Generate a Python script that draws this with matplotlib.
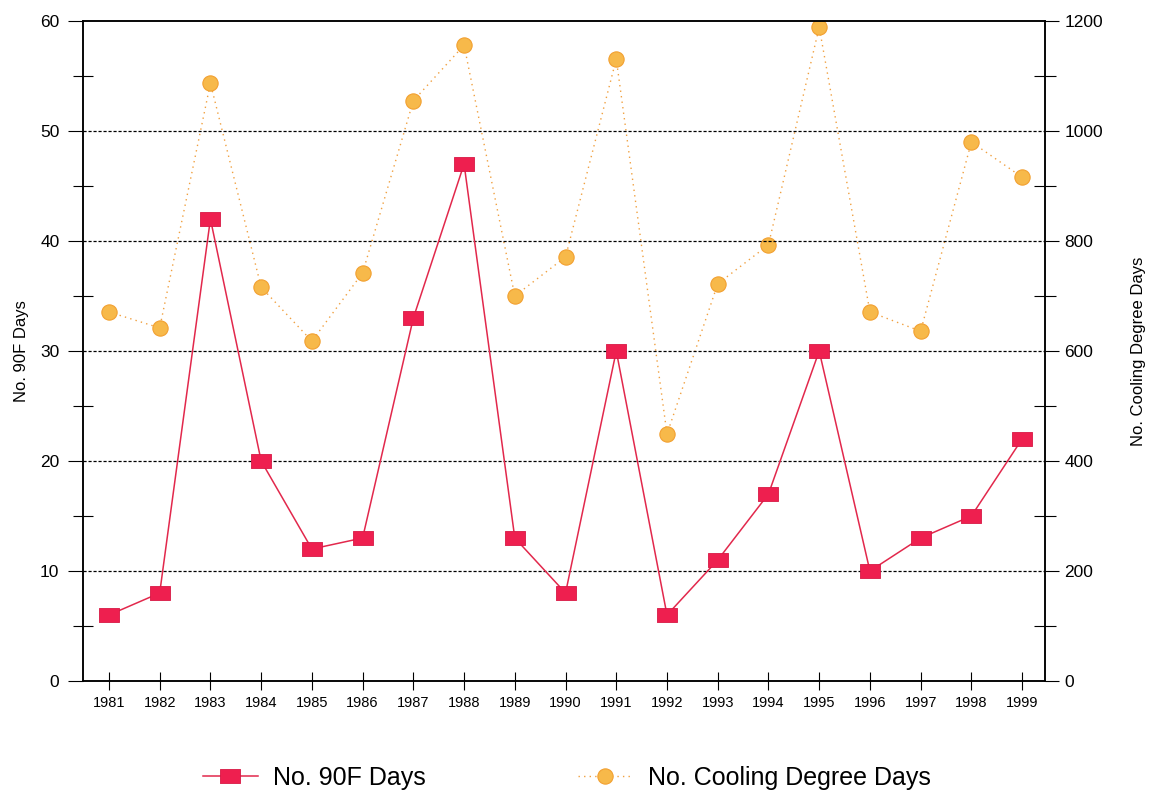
import numpy as np
import matplotlib.pyplot as plt
from matplotlib.ticker import MultipleLocator

# data
years = [1981, 1982, 1983, 1984, 1985, 1986, 1987, 1988, 1989, 1990,
         1991, 1992, 1993, 1994, 1995, 1996, 1997, 1998, 1999]
days_90f = [6, 8, 42, 20, 12, 13, 33, 47, 13, 8,
            30, 6, 11, 17, 30, 10, 13, 15, 22]
cooling_dd = [671, 642, 1087, 716, 618, 742, 1055, 1156, 700, 771,
              1131, 449, 722, 793, 1189, 671, 636, 980, 916]

plt.rcParams['font.family'] = ['Liberation Sans', 'DejaVu Sans']

fig = plt.figure(figsize=(11.54, 7.98), dpi=100)
ax = fig.add_axes([0.072, 0.1466, 0.8335, 0.8271])
ax2 = ax.twinx()

# wide rectangle marker for the 90F series
rect = [(-1.4, -1), (1.4, -1), (1.4, 1), (-1.4, 1), (-1.4, -1)]

ax2.plot(years, cooling_dd, color='#f0a040', lw=1.0, ls=(0, (1, 3)),
         marker='o', ms=11, mfc='#f7b94a', mec='#f2a030', mew=0.8,
         label='No. Cooling Degree Days', zorder=2)
l1, = ax.plot(years, days_90f, color='#e2284c', lw=1.1,
              marker=rect, ms=14, mfc='#ee1f4f', mec='#d81845', mew=0.6,
              label='No. 90F Days', zorder=3)

ax.set_zorder(ax2.get_zorder() + 1)
ax.patch.set_visible(False)

ax.set_xlim(1980.49, 1999.45)
ax.set_ylim(0, 60)
ax2.set_ylim(0, 1200)

ax.set_xticks(years)
ax.set_xticklabels([str(y) for y in years], fontsize=10.5)
ax.yaxis.set_major_locator(MultipleLocator(10))
ax.yaxis.set_minor_locator(MultipleLocator(5))
ax2.yaxis.set_major_locator(MultipleLocator(200))
ax2.yaxis.set_minor_locator(MultipleLocator(100))

ax.tick_params(axis='y', which='major', direction='out', length=11,
               width=0.8, labelsize=12.5, pad=6)
ax.tick_params(axis='y', which='minor', direction='inout', length=14,
               width=0.8)
ax.tick_params(axis='x', which='major', direction='inout', length=13,
               width=0.8, pad=4)
ax2.tick_params(axis='y', which='major', direction='out', length=10,
                width=0.8, labelsize=12.5, pad=4)
ax2.tick_params(axis='y', which='minor', direction='inout', length=16,
                width=0.8)

for val in [10, 20, 30, 40, 50]:
    ax.axhline(val, color='black', lw=0.9, ls=(0, (2.5, 1.5)), zorder=1)

for s in ['left', 'right', 'top', 'bottom']:
    ax.spines[s].set_linewidth(1.1)
    ax2.spines[s].set_linewidth(1.1)

ax.set_ylabel('No. 90F Days', fontsize=12, labelpad=8)
ax2.set_ylabel('No. Cooling Degree Days', fontsize=12, labelpad=20)

h1, lab1 = ax.get_legend_handles_labels()
h2, lab2 = ax2.get_legend_handles_labels()
fig.legend(h1 + h2, lab1 + lab2, loc='center', bbox_to_anchor=(0.491, 0.025),
           ncol=2, frameon=False, fontsize=18, columnspacing=6.1,
           handlelength=2.2, handletextpad=0.6)

fig.savefig('out.png', dpi=100)
